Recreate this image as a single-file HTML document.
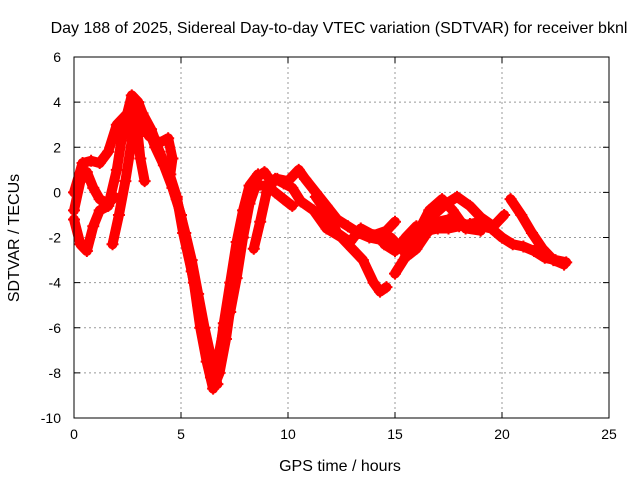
<!DOCTYPE html>
<html><head><meta charset="utf-8"><style>
body{margin:0;background:#fff}
svg{display:block;font-family:"Liberation Sans",sans-serif}
</style></head><body>
<svg id="chart" width="640" height="480">
<text x="339" y="33" font-size="16" text-anchor="middle">Day 188 of 2025, Sidereal Day-to-day VTEC variation (SDTVAR) for receiver bknl</text>
<text x="340" y="471" font-size="16" text-anchor="middle">GPS time / hours</text>
<text x="0" y="0" font-size="16" text-anchor="middle" transform="translate(19,238) rotate(-90)">SDTVAR / TECUs</text>
<g id="grid"></g><g id="ticks"></g><g id="series"></g>
<rect x="74" y="57" width="535" height="361" fill="none" stroke="#000" stroke-width="1"/>
</svg>
<script>
const xTicks=[0,5,10,15,20,25];
const yTicks=[6,4,2,0,-2,-4,-6,-8,-10];
const traceA=[[0,-1.2],[0.3,-2.3],[0.6,-2.6],[0.9,-1.5],[1.2,-0.8],[1.6,-0.6],[2,1],[2.3,2.8],[2.7,4.3],[3,4],[3.4,3],[3.8,2],[4.2,1.2],[4.6,0.2],[5,-1],[5.3,-2.5],[5.6,-4],[5.9,-6],[6.2,-7.5],[6.5,-8.7],[6.8,-8],[7.1,-6.5],[7.4,-4.5],[7.7,-2.7],[8,-1.3],[8.3,0],[8.6,0.7],[8.9,0.9],[9.2,0.5],[9.5,0.6],[10,0.5],[10.5,1],[10.8,0.6],[11.3,0],[11.8,-0.6],[12.3,-1.2],[12.8,-1.5],[13.3,-1.8],[13.8,-2],[14.3,-2.1],[14.8,-2],[15.2,-2.4],[15.6,-2.8],[16,-2.5],[16.5,-1.8],[17,-1.3],[17.5,-1.2],[18,-1.3],[18.5,-1.5],[19,-1.5],[19.5,-1.6],[20,-2],[20.5,-2.3],[21,-2.4],[21.5,-2.6],[22,-2.9],[22.5,-3],[23,-3.1]];
const traceB=[[0,0],[0.4,1.3],[0.8,1.4],[1.2,1.3],[1.6,1.8],[2,3],[2.5,3.5],[3,3.3],[3.5,2.5],[4,2.2],[4.4,2.4],[4.6,1.5],[4.5,0.8]];
const traceC=[[0,-0.8],[0.3,0.5],[0.6,0.9],[0.9,0.2],[1.2,-0.3],[1.6,-0.5],[1.9,-0.2]];
const traceD=[[1.8,-2.3],[2.1,-1],[2.4,0.5],[2.7,2.3],[2.9,3.3],[3.1,1.5],[3.3,0.5]];
const traceE=[[4.4,1],[4.8,-0.2],[5.1,-1.8],[5.5,-3.5],[5.8,-5],[6.1,-6.6],[6.4,-8.2],[6.7,-7.5],[7,-6],[7.3,-5.3],[7.6,-3.8],[7.9,-2],[8.2,-0.5],[8.5,0.3],[9,0.3],[9.4,0],[9.8,-0.3],[10.2,-0.6]];
const traceF=[[8.4,-2.5],[8.7,-1.3],[9,0],[9.4,0.6],[9.8,0.4],[10.2,0.2],[10.6,-0.4],[11.2,-0.8],[11.8,-1.6],[12.5,-2],[13,-2.5],[13.5,-3],[14,-4],[14.3,-4.4],[14.6,-4.2]];
const traceG=[[11.3,-0.2],[11.9,-1],[12.3,-1.8],[12.9,-2.2],[13.4,-1.6],[14,-1.9],[14.6,-1.7],[15,-1.3]];
const traceH=[[15,-3.6],[15.4,-3],[15.8,-2.2],[16.2,-1.6],[16.8,-1],[17.4,-0.5],[17.9,-0.2],[18.5,-0.6],[19,-1.1],[19.6,-1.5],[20.1,-1]];
const traceI=[[16,-1.9],[16.6,-0.8],[17.2,-0.3],[17.7,-0.8],[18.3,-1.6],[19,-1.7]];
const traceJ=[[20.4,-0.3],[20.9,-1],[21.4,-1.8],[21.9,-2.5],[22.4,-3],[22.9,-3.2]];
const traceK=[[2.3,2.5],[2.8,3.8],[3.2,3.5],[3.6,2.8],[4,1.8],[4.4,0.9],[4.8,-0.3],[5.2,-1.8],[5.5,-3],[5.8,-4.5],[6.1,-6],[6.4,-7.3],[6.7,-8.5]];
const traceL=[[6.8,-7.2],[7,-5.8],[7.3,-4],[7.6,-2.2],[7.9,-0.8],[8.2,0.3],[8.6,0.8]];
const traceM=[[14.5,-2.3],[15,-2.6],[15.5,-2],[16,-1.5],[16.5,-1.7],[17,-1.6],[17.5,-1.6],[18,-1.5],[18.5,-1.4],[19,-1.3],[19.5,-1.5]];
const traces=[traceA,traceB,traceC,traceD,traceE,traceF,traceG,traceH,traceI,traceJ,traceK,traceL,traceM];
const NS='http://www.w3.org/2000/svg';
const X0=74,X1=609,Y0=418,Y1=57;
function xs(h){return X0+(h-0)/25*(X1-X0);}
function ys(v){return Y0-(v+10)/16*(Y0-Y1);}
const grid=document.getElementById('grid'),ticks=document.getElementById('ticks'),ser=document.getElementById('series');
function mk(tag,attrs,parent){const e=document.createElementNS(NS,tag);for(const k in attrs)e.setAttribute(k,attrs[k]);parent.appendChild(e);return e;}
xTicks.forEach(t=>{const x=xs(t);
 if(t>0&&t<25){const g=mk('line',{x1:x,x2:x,y1:Y1,y2:Y0,stroke:'#999','stroke-dasharray':'2,3'},grid);
 
 }
 mk('line',{x1:x,x2:x,y1:Y0,y2:Y0-6,stroke:'#000'},ticks);mk('line',{x1:x,x2:x,y1:Y1,y2:Y1+6,stroke:'#000'},ticks);
 const l=mk('text',{x:x,y:Y0+21,'font-size':14,'text-anchor':'middle'},ticks);l.textContent=t;
 
 });
yTicks.forEach(t=>{const y=ys(t);
 if(t>-10&&t<6){const g=mk('line',{x1:X0,x2:X1,y1:y,y2:y,stroke:'#999','stroke-dasharray':'2,3'},grid);
 
 }
 mk('line',{x1:X0,x2:X0+6,y1:y,y2:y,stroke:'#000'},ticks);mk('line',{x1:X1,x2:X1-6,y1:y,y2:y,stroke:'#000'},ticks);
 const l=mk('text',{x:X0-13,y:y+5,'font-size':14,'text-anchor':'end'},ticks);l.textContent=t;
 
 });
traces.forEach((tr,i)=>{
 const p=mk('polyline',{points:tr.map(d=>xs(d[0])+','+ys(d[1])).join(' '),fill:'none',stroke:'#f00','stroke-width':10,'stroke-linejoin':'round','stroke-linecap':'round'},ser);
 
 
 tr.forEach(d=>{const x=xs(d[0]),y=ys(d[1]);
  const m=mk('path',{d:`M${x-6},${y}h12M${x},${y-6}v12`,stroke:'#f00','stroke-width':2},ser);
  
  });
});
</script>
</body></html>
